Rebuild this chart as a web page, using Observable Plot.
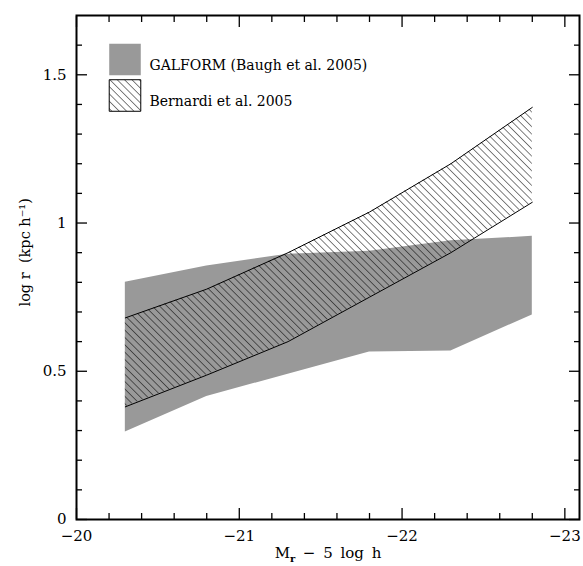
<!DOCTYPE html>
<html><head><meta charset="utf-8">
<script src="https://cdn.jsdelivr.net/npm/d3@7"></script>
<script src="https://cdn.jsdelivr.net/npm/@observablehq/plot@0.6"></script>
<style>body{margin:0;background:#fff} svg{display:block}</style>
</head><body><div id="chart"></div>
<script>
const mag = [-20.3, -20.8, -21.3, -21.8, -22.3, -22.8];
const galformLow = [0.295, 0.415, 0.49, 0.565, 0.568, 0.69];
const galformHigh = [0.80, 0.855, 0.895, 0.905, 0.94, 0.955];
const bernardiLow = [0.38, 0.487, 0.60, 0.75, 0.90, 1.07];
const bernardiHigh = [0.68, 0.777, 0.90, 1.037, 1.20, 1.39];
const xMajor = [-20, -21, -22, -23];
const xMinor = [-20.2, -20.4, -20.6, -20.8, -21.2, -21.4, -21.6, -21.8, -22.2, -22.4, -22.6, -22.8];
const yMajor = [0, 0.5, 1, 1.5];
const yMinor = [0.1, 0.2, 0.3, 0.4, 0.6, 0.7, 0.8, 0.9, 1.1, 1.2, 1.3, 1.4, 1.6];
const legendLabels = ["GALFORM (Baugh et al. 2005)", "Bernardi et al. 2005"];
const xTitle = "M r − 5 log h";
const yTitle = "log r \u00a0(kpc h⁻¹)";

const galform = mag.map((m, i) => ({m, lo: galformLow[i], hi: galformHigh[i]}));
const bernardi = mag.map((m, i) => ({m, lo: bernardiLow[i], hi: bernardiHigh[i]}));
const fmt = d => String(d).replace("-", "\u2212");

const tickAxes = [];
for (const anchor of ["bottom", "top"]) {
  tickAxes.push(Plot.axisX({ticks: xMajor, anchor, tickSize: -11, tickFormat: () => "", label: null, strokeWidth: 1.3}));
  tickAxes.push(Plot.axisX({ticks: xMinor, anchor, tickSize: -6, tickFormat: () => "", label: null, strokeWidth: 1.3}));
}
for (const anchor of ["left", "right"]) {
  tickAxes.push(Plot.axisY({ticks: yMajor, anchor, tickSize: -11, tickFormat: () => "", label: null, strokeWidth: 1.3}));
  tickAxes.push(Plot.axisY({ticks: yMinor, anchor, tickSize: -6, tickFormat: () => "", label: null, strokeWidth: 1.3}));
}

const chart = Plot.plot({
  width: 583, height: 566,
  marginLeft: 76, marginRight: 4, marginTop: 15, marginBottom: 47,
  style: {fontFamily: "DejaVu Serif", fontSize: "15px", background: "#fff", color: "#000"},
  x: {domain: [-20, -23.09]},
  y: {domain: [0, 1.7]},
  marks: [
    Plot.areaY(galform, {x: "m", y1: "lo", y2: "hi", fill: "#999999"}),
    Plot.areaY(bernardi, {x: "m", y1: "lo", y2: "hi", fill: "url(#hatch)"}),
    Plot.line(bernardi, {x: "m", y: "hi", stroke: "#000", strokeWidth: 1}),
    Plot.line(bernardi, {x: "m", y: "lo", stroke: "#000", strokeWidth: 1}),
    ...tickAxes,
    Plot.axisX({ticks: xMajor, anchor: "bottom", tickSize: 0, tickPadding: 11, tickFormat: fmt, label: null, fontSize: 15}),
    Plot.axisY({ticks: yMajor, anchor: "left", tickSize: 0, tickPadding: 10, tickFormat: d => String(d), label: null, fontSize: 15}),
    Plot.frame({stroke: "#000", strokeWidth: 2}),
    Plot.dot([legendLabels[0]], {frameAnchor: "top-left", dx: 48.5, dy: 44, symbol: "square", r: 17.8, fill: "#999999", stroke: null}),
    Plot.dot([legendLabels[1]], {frameAnchor: "top-left", dx: 48.5, dy: 80, symbol: "square", r: 17.8, fill: "url(#hatch)", stroke: "#000", strokeWidth: 1}),
    Plot.text([legendLabels[0]], {frameAnchor: "top-left", dx: 73, dy: 45, textAnchor: "start", fontSize: 14, fontFamily: "DejaVu Serif"}),
    Plot.text([legendLabels[1]], {frameAnchor: "top-left", dx: 73, dy: 81, textAnchor: "start", fontSize: 14, fontFamily: "DejaVu Serif"}),
    Plot.text([xTitle], {frameAnchor: "bottom", dy: 38, fontSize: 15, className: "xtitle"}),
    Plot.text([yTitle], {frameAnchor: "left", dx: -51, dy: 39, rotate: -90, fontSize: 14.5})
  ]
});

const svg = d3.select(chart);
const defs = svg.insert("defs", ":first-child");
const pat = defs.append("pattern").attr("id", "hatch").attr("patternUnits", "userSpaceOnUse")
  .attr("width", 5.2).attr("height", 5.2).attr("patternTransform", "rotate(-45)");
pat.append("line").attr("x1", 0).attr("y1", -1).attr("x2", 0).attr("y2", 7).attr("stroke", "#000").attr("stroke-width", 1);

const xt = svg.select("g.xtitle text");
xt.text("").attr("word-spacing", "3px");
xt.append("tspan").text("M");
xt.append("tspan").attr("font-size", "10px").attr("font-weight", "bold").attr("dy", "4").text("r");
xt.append("tspan").attr("dy", "-4").text("\u2002\u2212 5 log h");

document.getElementById("chart").appendChild(chart);
</script>
</body></html>
